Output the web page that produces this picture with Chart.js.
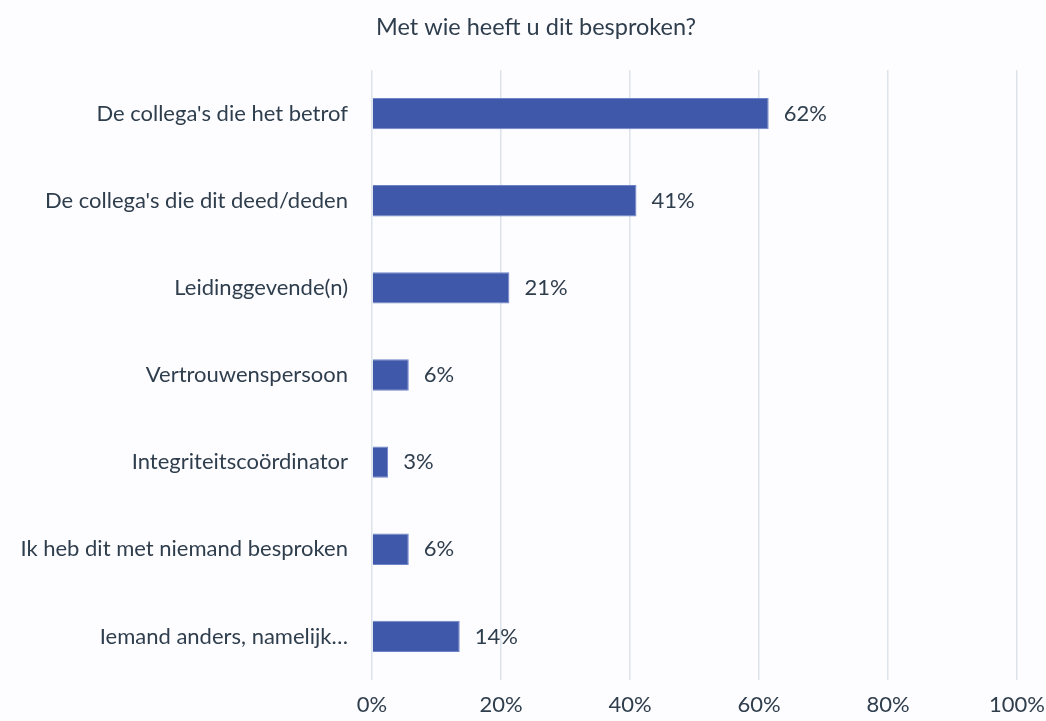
<!DOCTYPE html>
<html>
<head>
<meta charset="utf-8">
<script src="https://cdn.jsdelivr.net/npm/chart.js@4"></script>
<style>
html,body{margin:0;padding:0;background:#FDFCFF;}
#wrap{width:1046px;height:721px;position:relative;}
</style>
</head>
<body>
<div id="wrap"><canvas id="c" width="1046" height="721"></canvas></div>
<script>
const titleText = "Met wie heeft u dit besproken?";
const categories = [
  "De collega's die het betrof",
  "De collega's die dit deed/deden",
  "Leidinggevende(n)",
  "Vertrouwenspersoon",
  "Integriteitscoördinator",
  "Ik heb dit met niemand besproken",
  "Iemand anders, namelijk…"
];
const values = [61.5, 41.0, 21.3, 5.7, 2.5, 5.7, 13.6];
const tickValues = [0, 20, 40, 60, 80, 100];

const FONT = "Lato, 'Open Sans', sans-serif";
const TEXT = "#2F3E4D";

const valueLabels = {
  id: 'valueLabels',
  afterDatasetsDraw(chart) {
    const ctx = chart.ctx;
    const meta = chart.getDatasetMeta(0);
    ctx.save();
    ctx.font = "22px " + FONT;
    ctx.fillStyle = TEXT;
    ctx.textAlign = 'left';
    ctx.textBaseline = 'middle';
    meta.data.forEach((bar, i) => {
      ctx.fillText(Math.round(values[i]) + '%', bar.x + 15, bar.y);
    });
    ctx.restore();
  }
};

const titlePlugin = {
  id: 'titlePlugin',
  afterDraw(chart) {
    const ctx = chart.ctx;
    ctx.save();
    ctx.font = "23.5px " + FONT;
    ctx.fillStyle = TEXT;
    ctx.textAlign = 'center';
    ctx.textBaseline = 'middle';
    ctx.fillText(titleText, 536, 27);
    ctx.restore();
  }
};

new Chart(document.getElementById('c'), {
  type: 'bar',
  data: {
    labels: categories,
    datasets: [{
      data: values,
      backgroundColor: '#3F58AA',
      borderColor: '#6F84C8',
      borderWidth: 1,
      barPercentage: 0.36,
      categoryPercentage: 1.0
    }]
  },
  options: {
    indexAxis: 'y',
    responsive: false,
    animation: false,
    layout: { autoPadding: false, padding: { left: 0, right: 29, top: 70, bottom: 0 } },
    plugins: {
      legend: { display: false },
      tooltip: { enabled: false },
      title: { display: false }
    },
    scales: {
      x: {
        min: 0, max: 100,
        afterBuildTicks(scale) { scale.ticks = tickValues.map(v => ({ value: v })); },
        afterFit(scale) { scale.height = 41; scale.paddingRight = 0; scale.paddingLeft = 0; },
        ticks: {
          callback: v => v + '%',
          color: TEXT,
          font: { family: FONT, size: 22 },
          padding: 12,
          maxRotation: 0
        },
        grid: { color: '#DCE3EB', lineWidth: 1.5, drawTicks: false },
        border: { display: false }
      },
      y: {
        afterFit(scale) { scale.width = 372; },
        ticks: {
          color: TEXT,
          font: { family: FONT, size: 22 },
          padding: 16
        },
        grid: { display: false },
        border: { display: false }
      }
    }
  },
  plugins: [valueLabels, titlePlugin]
});
</script>
</body>
</html>
